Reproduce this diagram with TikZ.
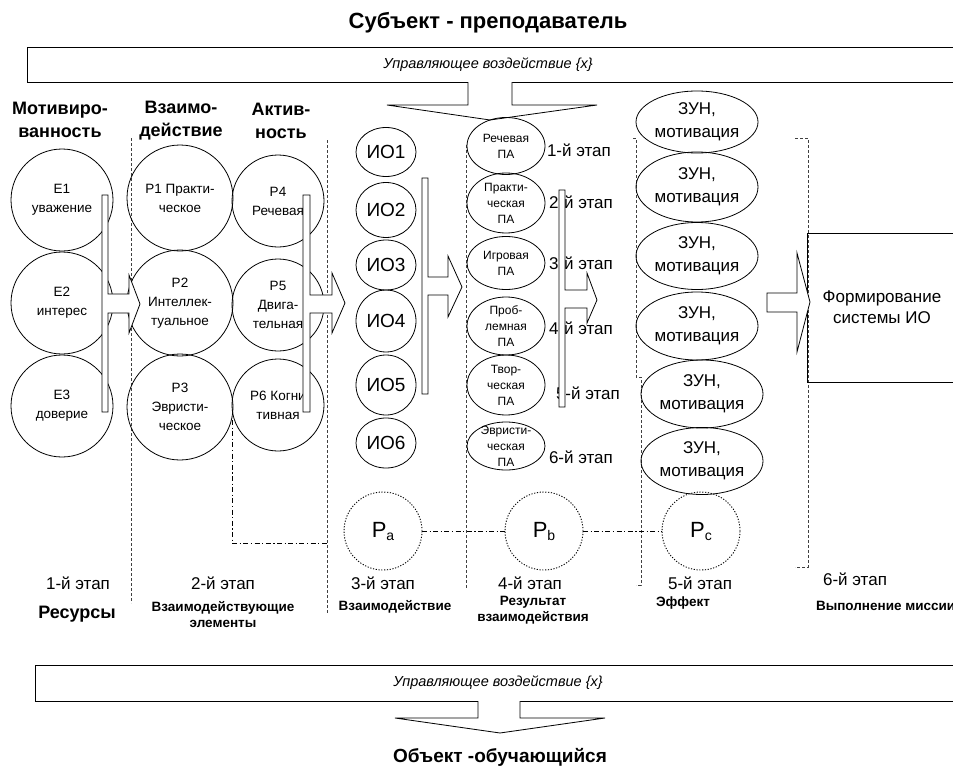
\documentclass[tikz,border=0pt]{standalone}
\usepackage{fontspec}
\setmainfont{Liberation Sans}
\usetikzlibrary{shapes.geometric}
\newcommand\myfs[2]{\fontsize{#1}{#2}\selectfont}
\begin{document}
\begin{tikzpicture}[x=1pt,y=-1pt,
 every node/.style={inner sep=0pt,outer sep=0pt,align=center},
 circ/.style={circle,draw,line width=0.8pt,minimum size=#1},
 ell/.style 2 args={ellipse,draw,line width=0.8pt,minimum width=#1,minimum height=#2},
 dsh/.style={draw=black!75,line width=0.6pt,dash pattern=on 3pt off 2pt},
 dashdot/.style={line width=0.9pt,dash pattern=on 5pt off 2.5pt on 1.2pt off 2.5pt},
 dotcirc/.style={circle,draw,line width=0.9pt,dash pattern=on 1.2pt off 1.6pt,minimum size=78pt},
 barrow/.style={draw,fill=white,line width=0.8pt,line join=miter},
 boxx/.style={draw,line width=0.8pt,anchor=north west},
 hdr/.style={font=\myfs{18}{23}\bfseries},
 ctext/.style={font=\myfs{13.5}{19}},
 patext/.style={font=\myfs{12}{16}},
 stage/.style={font=\myfs{17}{20}},
 sbold/.style={font=\myfs{13.5}{16}\bfseries},
]
\useasboundingbox (0,0) rectangle (953,776);

% title and top box
\node[font=\myfs{22}{25}\bfseries] (title) at (488,23) {Субъект - преподаватель};
\node[boxx,minimum width=940pt,minimum height=35pt] (topbox) at (27,47) {};
\node[font=\myfs{14.5}{18}\itshape] (toptext) at (488,65) {Управляющее воздействие \{x\}};
\draw[barrow] (468,82) -- (468,105) -- (387,105) -- (490,120) -- (597,105) -- (512,105) -- (512,82);

% headers
\node[hdr] (h1) at (60,120) {Мотивиро-\\ванность};
\node[hdr] (h2) at (181,121) {Взаимо-\\действие};
\node[hdr] (h3) at (281,121) {Актив-\\ность};

% dashed separators
\coordinate (d1a) at (131,138); \coordinate (d1b) at (131,603);
\coordinate (d2a) at (327,140); \coordinate (d2b) at (327,614);
\coordinate (d3a) at (466,145); \coordinate (d3b) at (466,588);
\draw[dsh] (d1a) -- (d1b);
\draw[dsh] (d2a) -- (d2b);
\draw[dsh] (d3a) -- (d3b);
\coordinate (b1) at (633,138); \coordinate (b2) at (636,138); \coordinate (b3) at (636,377);
\coordinate (b4) at (641,377); \coordinate (b5) at (641,585); \coordinate (b6) at (636,585);
\draw[dsh] (b1) -- (b2) -- (b3) -- (b4) -- (b5) -- (b6);
\coordinate (r1) at (795,138); \coordinate (r2) at (808,138); \coordinate (r3) at (808,567); \coordinate (r4) at (795,567);
\draw[dsh] (r1) -- (r2) -- (r3) -- (r4);

% column 1
\node[circ=102pt,ctext] (E1) at (62,200) {Е1\\уважение};
\node[circ=102pt,ctext] (E2) at (62,303) {Е2\\интерес};
\node[circ=102pt,ctext] (E3) at (62,406) {Е3\\доверие};
% column 2
\node[circ=106pt,ctext] (P1) at (180,198) {Р1 Практи-\\ческое};
\node[circ=106pt,ctext] (P2) at (180,303) {Р2\\Интеллек-\\туальное};
\node[circ=106pt,ctext] (P3) at (180,407) {Р3\\Эвристи-\\ческое};
\node[circ=92pt,ctext] (P4) at (278,201) {Р4\\Речевая};
\node[circ=92pt,ctext] (P5) at (278,305) {Р5\\Двига-\\тельная};
\node[circ=92pt,ctext] (P6) at (278,405) {Р6 Когни\\тивная};

% IO column
\node[ell={60pt}{49pt}] (IO1) at (386,152) {};
\node[ell={60pt}{55pt}] (IO2) at (386,210) {};
\node[ell={60pt}{50pt}] (IO3) at (386,265) {};
\node[ell={60pt}{62pt}] (IO4) at (386,321) {};
\node[ell={60pt}{60pt}] (IO5) at (386,385) {};
\node[ell={60pt}{50pt}] (IO6) at (386,443) {};
\foreach \i in {1,...,6} {\node[font=\myfs{19}{22}] (IOt\i) at (IO\i) {ИО\i};}

% PA column
\node[ell={78pt}{57pt}] (PA1) at (506,146) {};
\node[ell={78pt}{60pt}] (PA2) at (506,203) {};
\node[ell={78pt}{53pt}] (PA3) at (506,263) {};
\node[ell={78pt}{58pt}] (PA4) at (506,326) {};
\node[ell={78pt}{60pt}] (PA5) at (506,385) {};
\node[ell={78pt}{48pt}] (PA6) at (506,446) {};
\node[patext] (PAt1) at (PA1) {Речевая\\ПА};
\node[patext] (PAt2) at (PA2) {Практи-\\ческая\\ПА};
\node[patext] (PAt3) at (PA3) {Игровая\\ПА};
\node[patext] (PAt4) at (PA4) {Проб-\\лемная\\ПА};
\node[patext] (PAt5) at (PA5) {Твор-\\ческая\\ПА};
\node[patext] (PAt6) at (PA6) {Эвристи-\\ческая\\ПА};
\node[stage,anchor=west] (s1) at (547,150) {1-й этап};
\node[stage,anchor=west] (s2) at (549,202) {2-й этап};
\node[stage,anchor=west] (s3) at (549,263) {3-й этап};
\node[stage,anchor=west] (s4) at (549,328) {4-й этап};
\node[stage,anchor=west] (s5) at (556,393) {5-й этап};
\node[stage,anchor=west] (s6) at (549,457) {6-й этап};

% ZUN column
\node[ell={122pt}{62pt}] (Z1) at (697,122) {};
\node[ell={122pt}{70pt}] (Z2) at (697,187) {};
\node[ell={122pt}{67pt}] (Z3) at (697,256) {};
\node[ell={122pt}{68pt}] (Z4) at (697,326) {};
\node[ell={122pt}{68pt}] (Z5) at (702,394) {};
\node[ell={122pt}{67pt}] (Z6) at (702,461) {};
\foreach \i in {1,...,6} {\node[font=\myfs{17}{23}] (Zt\i) at (Z\i) {ЗУН,\\мотивация};}

% result box
\node[boxx,minimum width=153pt,minimum height=149pt] (F) at (807,233) {};
\node[font=\myfs{17}{21}] (Ft) at (882,307) {Формирование\\системы ИО};

% block arrows
\draw[barrow] (102,195) -- (108,195) -- (108,294) -- (129,294) -- (129,275) -- (140,304) -- (129,333) -- (129,313) -- (108,313) -- (108,412) -- (102,412) -- cycle;
\draw[barrow] (303,195) -- (310,195) -- (310,295) -- (332,295) -- (332,273) -- (345,303) -- (332,333) -- (332,313) -- (310,313) -- (310,412) -- (303,412) -- cycle;
\draw[barrow] (422,178) -- (428,178) -- (428,277) -- (448,277) -- (448,256) -- (462,287) -- (448,317) -- (448,295) -- (428,295) -- (428,394) -- (422,394) -- cycle;
\draw[barrow] (559,190) -- (565,190) -- (565,290) -- (587,290) -- (587,273) -- (597,300) -- (587,323) -- (587,308) -- (565,308) -- (565,407) -- (559,407) -- cycle;
\draw[barrow] (767,293) -- (797,293) -- (797,253) -- (810,302) -- (797,352) -- (797,312) -- (767,312) -- cycle;

% dotted circles
\node[dotcirc] (Pa) at (383,531) {{\myfs{22}{24}P}\raisebox{-3pt}{\myfs{14}{16}a}};
\node[dotcirc] (Pb) at (544,531) {{\myfs{22}{24}P}\raisebox{-3pt}{\myfs{14}{16}b}};
\node[dotcirc] (Pc) at (701,531) {{\myfs{22}{24}P}\raisebox{-3pt}{\myfs{14}{16}c}};
\draw[dashdot] (Pa) -- (Pb);
\draw[dashdot] (Pb) -- (Pc);
\coordinate (l1) at (232,420); \coordinate (l2) at (232,543); \coordinate (l3) at (327,543);
\draw[dashdot] (l1) -- (l2) -- (l3);

% bottom stage labels
\node[stage] (st1) at (78,583) {1-й этап};
\node[font=\myfs{18}{20}\bfseries] (res) at (77,614) {Ресурсы};
\node[stage] (st2) at (223,583) {2-й этап};
\node[sbold] (el) at (223,615) {Взаимодействующие\\элементы};
\node[stage] (st3) at (383,583) {3-й этап};
\node[sbold] (vz) at (395,607) {Взаимодействие};
\node[stage] (st4) at (530,583) {4-й этап};
\node[sbold] (rz) at (533,610) {Результат\\взаимодействия};
\node[stage] (st5) at (700,583) {5-й этап};
\node[sbold] (ef) at (683,603) {Эффект};
\node[stage] (st6) at (855,579) {6-й этап};
\node[sbold,anchor=west] (vm) at (816,606) {Выполнение миссии};

% bottom box
\node[boxx,minimum width=930pt,minimum height=36pt] (botbox) at (35,665) {};
\node[font=\myfs{14.5}{18}\itshape] (bottext) at (498,683) {Управляющее воздействие \{x\}};
\draw[barrow] (478,701) -- (478,718) -- (395,718) -- (500,733) -- (605,718) -- (520,718) -- (520,701);
\node[font=\myfs{19}{24}\bfseries] (obj) at (500,757) {Объект -обучающийся};
\end{tikzpicture}
\end{document}
